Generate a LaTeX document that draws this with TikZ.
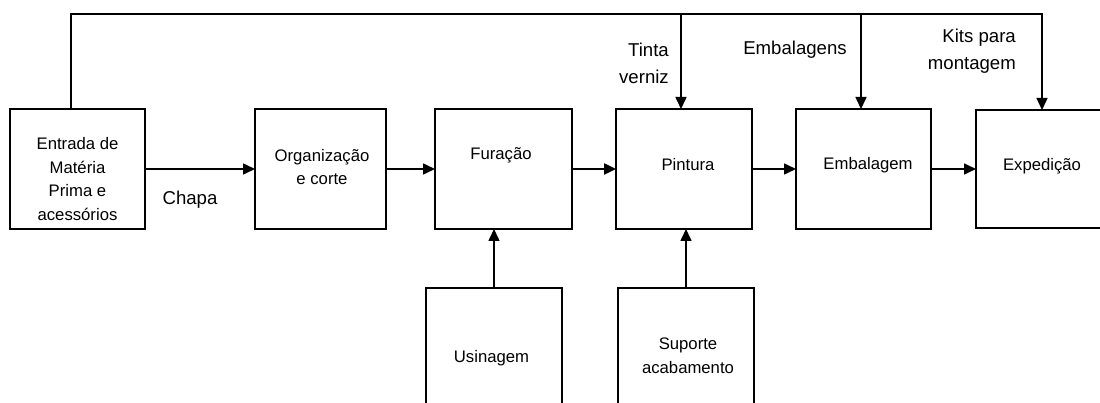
\documentclass[tikz,border=0pt]{standalone}
\usepackage{fontspec}
\setmainfont{Liberation Sans}
\usetikzlibrary{arrows.meta}
\begin{document}
\begin{tikzpicture}[x=1pt,y=-1pt,
  box/.style = {rectangle,draw,line width=1.3pt,minimum height=120pt,inner sep=0pt,outer sep=0pt},
  boxtxt/.style = {font=\fontsize{16.7}{23.5}\selectfont,align=center,inner sep=0pt},
  tag/.style = {font=\fontsize{18.6}{27}\selectfont,inner sep=0pt},
  flow/.style = {line width=1.6pt,-{Triangle[length=12pt,width=11pt]}}]
\clip (0,0) rectangle (1100,403);
% process row
\node[box,minimum width=135pt,label={[boxtxt,yshift=-10pt]center:Entrada de\\Matéria\\Prima e\\acessórios}] (ent) at (77.5,169) {};
\node[box,minimum width=131pt,label={[boxtxt,xshift=1.5pt,yshift=2pt]center:Organização\\e corte}] (org) at (320.5,169) {};
\node[box,minimum width=137pt,label={[boxtxt,xshift=-2.5pt,yshift=14pt]center:Furação}] (fur) at (503.5,169) {};
\node[box,minimum width=136pt,label={[boxtxt,xshift=4pt,yshift=4pt]center:Pintura}] (pin) at (684,169) {};
\node[box,minimum width=135pt,label={[boxtxt,xshift=4.5pt,yshift=4pt]center:Embalagem}] (emb) at (863.5,169) {};
\node[box,minimum width=132pt,minimum height=118pt,label={[boxtxt,yshift=3pt]center:Expedição}] (exp) at (1042,169) {};
% side inputs
\node[box,minimum width=136pt,label={[boxtxt,xshift=-2.5pt,yshift=-10pt]center:Usinagem}] (usin) at (494,348) {};
\node[box,minimum width=136pt,label={[boxtxt,xshift=2pt,yshift=-8pt]center:Suporte\\acabamento}] (sup) at (686,348) {};
% material flow
\draw[flow] (ent) -- (org);
\draw[flow] (org) -- (fur);
\draw[flow,line width=2.4pt] (fur) -- (pin);
\draw[flow] (pin) -- (emb);
\draw[flow] (emb) -- (exp);
\draw[flow] (usin) -- (usin |- fur.south);
\draw[flow] (sup) -- (sup |- pin.south);
% supply line on top
\coordinate (topL) at (71,14);
\coordinate (topR) at (1042,14);
\coordinate (tintatop) at (681,14);
\coordinate (embtop) at (861,14);
\draw[flow,line width=1.3pt] (ent.north -| topL) -- (topL) -- (topR) -- (topR |- exp.north);
\draw[flow] (tintatop) -- (tintatop |- pin.north);
\draw[flow] (embtop) -- (embtop |- emb.north);
% labels
\node[tag] (chapa) at (190,200) {Chapa};
\node[tag,align=right,anchor=east] (tintalbl) at (669,63) {Tinta\\verniz};
\node[tag] (embalbl) at (795,50) {Embalagens};
\node[tag,align=right,anchor=east] (kitslbl) at (1016,51) {Kits para\\montagem};
\end{tikzpicture}
\end{document}
